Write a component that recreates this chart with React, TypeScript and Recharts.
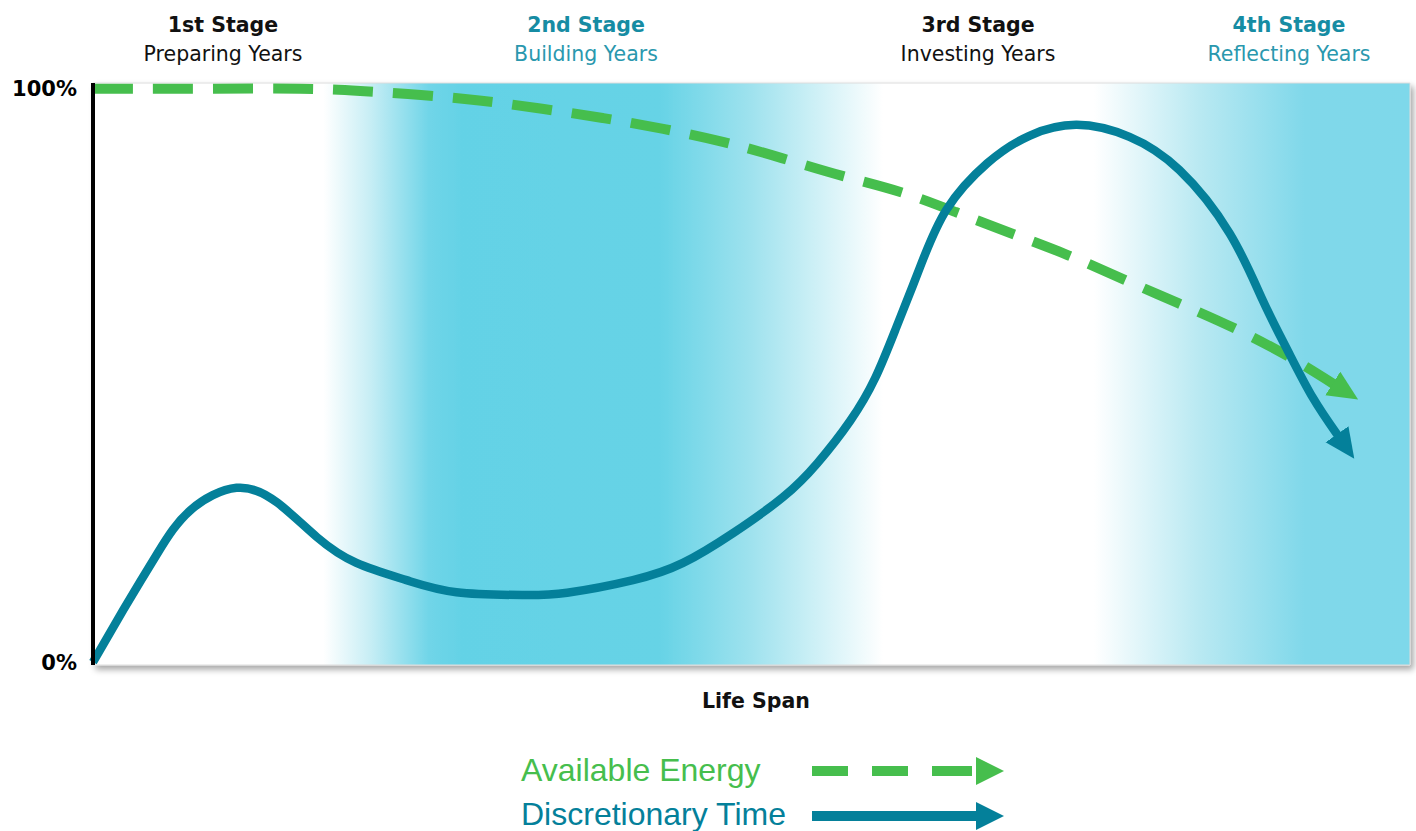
import React from "react";
import { LineChart, Line, XAxis, YAxis, ReferenceArea } from "recharts";

// Life span position (0-100) and % values
const energyX = [0, 8.0, 15.7, 20.3, 24.9, 29.5, 34.1, 38.7, 43.3, 47.9, 52.3, 56.9, 61.3, 65.5, 69.7, 74.0, 78.4, 82.4, 86.6, 90.7, 94.2];
const energyY = [100, 100, 100, 99.6, 98.9, 97.9, 96.5, 94.9, 93.0, 90.7, 87.9, 84.8, 82.0, 78.5, 74.8, 71.0, 66.6, 62.6, 58.3, 53.4, 48.5];

const timeX = [0, 2.3, 4.9, 7.4, 10.9, 14.0, 17.0, 20.0, 23.8, 27.6, 32.6, 36.0, 41.0, 44.8, 48.6, 52.4, 55.0, 57.5, 59.4, 61.0, 62.8, 64.8, 67.9, 71.1, 74.7, 78.7, 82.5, 86.3, 88.8, 90.7, 92.6, 94.5];
const timeY = [0, 9.1, 19.0, 26.5, 30.4, 27.8, 21.8, 17.3, 14.3, 12.2, 11.7, 12.1, 14.3, 17.3, 22.5, 28.8, 34.7, 42.1, 49.6, 58.4, 68.9, 78.9, 87.0, 91.8, 93.7, 91.6, 85.8, 74.8, 63.2, 54.4, 46.2, 39.6];

const yTicks = [0, 100];
const stageTitles = ["1st Stage", "2nd Stage", "3rd Stage", "4th Stage"];
const stageSubtitles = ["Preparing Years", "Building Years", "Investing Years", "Reflecting Years"];
const seriesNames = ["Available Energy", "Discretionary Time"];
const axisTitle = "Life Span";

const energyData = energyX.map((x, i) => ({ x, v: energyY[i] }));
const timeData = timeX.map((x, i) => ({ x, v: timeY[i] }));

const GREEN = "#46BE4D";
const TEAL = "#04809A";
const TITLE_TEAL = "#168CA3";
const SUB_TEAL = "#2A98AE";
const FONT = "'DejaVu Sans', sans-serif";

const W = 1416;
const H = 831;
const stageCenters = [223, 586, 978, 1289];

export default function App() {
  return (
    <div style={{ position: "absolute", left: 0, top: 0, width: W, height: H, background: "#fff", overflow: "hidden" }}>
      <LineChart
        width={W}
        height={H}
        margin={{ top: 83, right: 6, bottom: 166, left: 0 }}
      >
        <defs>
          <linearGradient id="bgGrad" x1="0" y1="0" x2="1" y2="0">
            <stop offset="0" stopColor="#ffffff" />
            <stop offset="0.175" stopColor="#ffffff" />
            <stop offset="0.21" stopColor="#c8eef5" />
            <stop offset="0.255" stopColor="#70d5e8" />
            <stop offset="0.28" stopColor="#64d2e6" />
            <stop offset="0.43" stopColor="#66d3e6" />
            <stop offset="0.5" stopColor="#9fe2ee" />
            <stop offset="0.6" stopColor="#ffffff" />
            <stop offset="0.76" stopColor="#ffffff" />
            <stop offset="0.84" stopColor="#b9e9f2" />
            <stop offset="0.92" stopColor="#80d8ea" />
            <stop offset="1" stopColor="#7ed8ea" />
          </linearGradient>
          <filter id="boxShadow" x="-5%" y="-5%" width="112%" height="115%">
            <feDropShadow dx="3" dy="4" stdDeviation="3" floodColor="#000" floodOpacity="0.35" />
          </filter>
          <marker id="arrowGreen" markerUnits="userSpaceOnUse" markerWidth="34" markerHeight="34" refX="1" refY="14" orient="auto">
            <path d="M0,0 L30,14 L0,28 Z" fill={GREEN} />
          </marker>
          <marker id="arrowTeal" markerUnits="userSpaceOnUse" markerWidth="34" markerHeight="34" refX="1" refY="14" orient="auto">
            <path d="M0,0 L30,14 L0,28 Z" fill={TEAL} />
          </marker>
        </defs>
        <ReferenceArea
          x1={0}
          x2={100}
          y1={-0.5}
          y2={101}
          fill="url(#bgGrad)"
          fillOpacity={1}
          stroke="#dcdcdc"
          strokeWidth={1}
          filter="url(#boxShadow)"
        />
        <XAxis
          type="number"
          dataKey="x"
          domain={[0, 100]}
          height={0}
          tick={false}
          tickLine={false}
          axisLine={{ stroke: "#000", strokeWidth: 5 }}
        />
        <YAxis
          type="number"
          domain={[-0.5, 101]}
          ticks={yTicks}
          width={93}
          tickSize={0}
          tickMargin={16}
          tickLine={false}
          tickFormatter={(v: number) => `${v}%`}
          tick={{ fill: "#000", fontSize: 21, fontWeight: 700, fontFamily: FONT }}
          axisLine={{ stroke: "#000", strokeWidth: 4 }}
        />
        <Line
          data={energyData}
          dataKey="v"
          type="natural"
          stroke={GREEN}
          strokeWidth={10}
          strokeDasharray="40 20"
          dot={false}
          activeDot={false}
          markerEnd="url(#arrowGreen)"
          isAnimationActive={false}
        />
        <Line
          data={timeData}
          dataKey="v"
          type="natural"
          stroke={TEAL}
          strokeWidth={8.5}
          dot={false}
          activeDot={false}
          markerEnd="url(#arrowTeal)"
          isAnimationActive={false}
        />
      </LineChart>
      <svg
        width={W}
        height={H}
        style={{ position: "absolute", left: 0, top: 0, pointerEvents: "none" }}
      >
        {stageTitles.map((t, i) => (
          <g key={t}>
            <text
              x={stageCenters[i]}
              y={32}
              textAnchor="middle"
              fontFamily={FONT}
              fontWeight={700}
              fontSize={20.5}
              fill={i % 2 === 1 ? TITLE_TEAL : "#111"}
            >
              {t}
            </text>
            <text
              x={stageCenters[i]}
              y={61}
              textAnchor="middle"
              fontFamily={FONT}
              fontSize={20.5}
              fill={i % 2 === 1 ? SUB_TEAL : "#111"}
            >
              {stageSubtitles[i]}
            </text>
          </g>
        ))}
        <text x={756} y={708} textAnchor="middle" fontFamily={FONT} fontWeight={700} fontSize={20.5} fill="#111">
          {axisTitle}
        </text>
        <text x={521} y={781} fontFamily="'Liberation Sans', Arial, sans-serif" fontSize={32} fill={GREEN}>
          {seriesNames[0]}
        </text>
        <text x={521} y={825} fontFamily="'Liberation Sans', Arial, sans-serif" fontSize={32} fill={TEAL}>
          {seriesNames[1]}
        </text>
        <line x1={812} y1={771} x2={976} y2={771} stroke={GREEN} strokeWidth={10} strokeDasharray="36 24 36 24 40" />
        <path d="M976,757 L1004,771 L976,785 Z" fill={GREEN} />
        <line x1={812} y1={816} x2={977} y2={816} stroke={TEAL} strokeWidth={10} />
        <path d="M976,802 L1004,816 L976,830 Z" fill={TEAL} />
      </svg>
    </div>
  );
}
